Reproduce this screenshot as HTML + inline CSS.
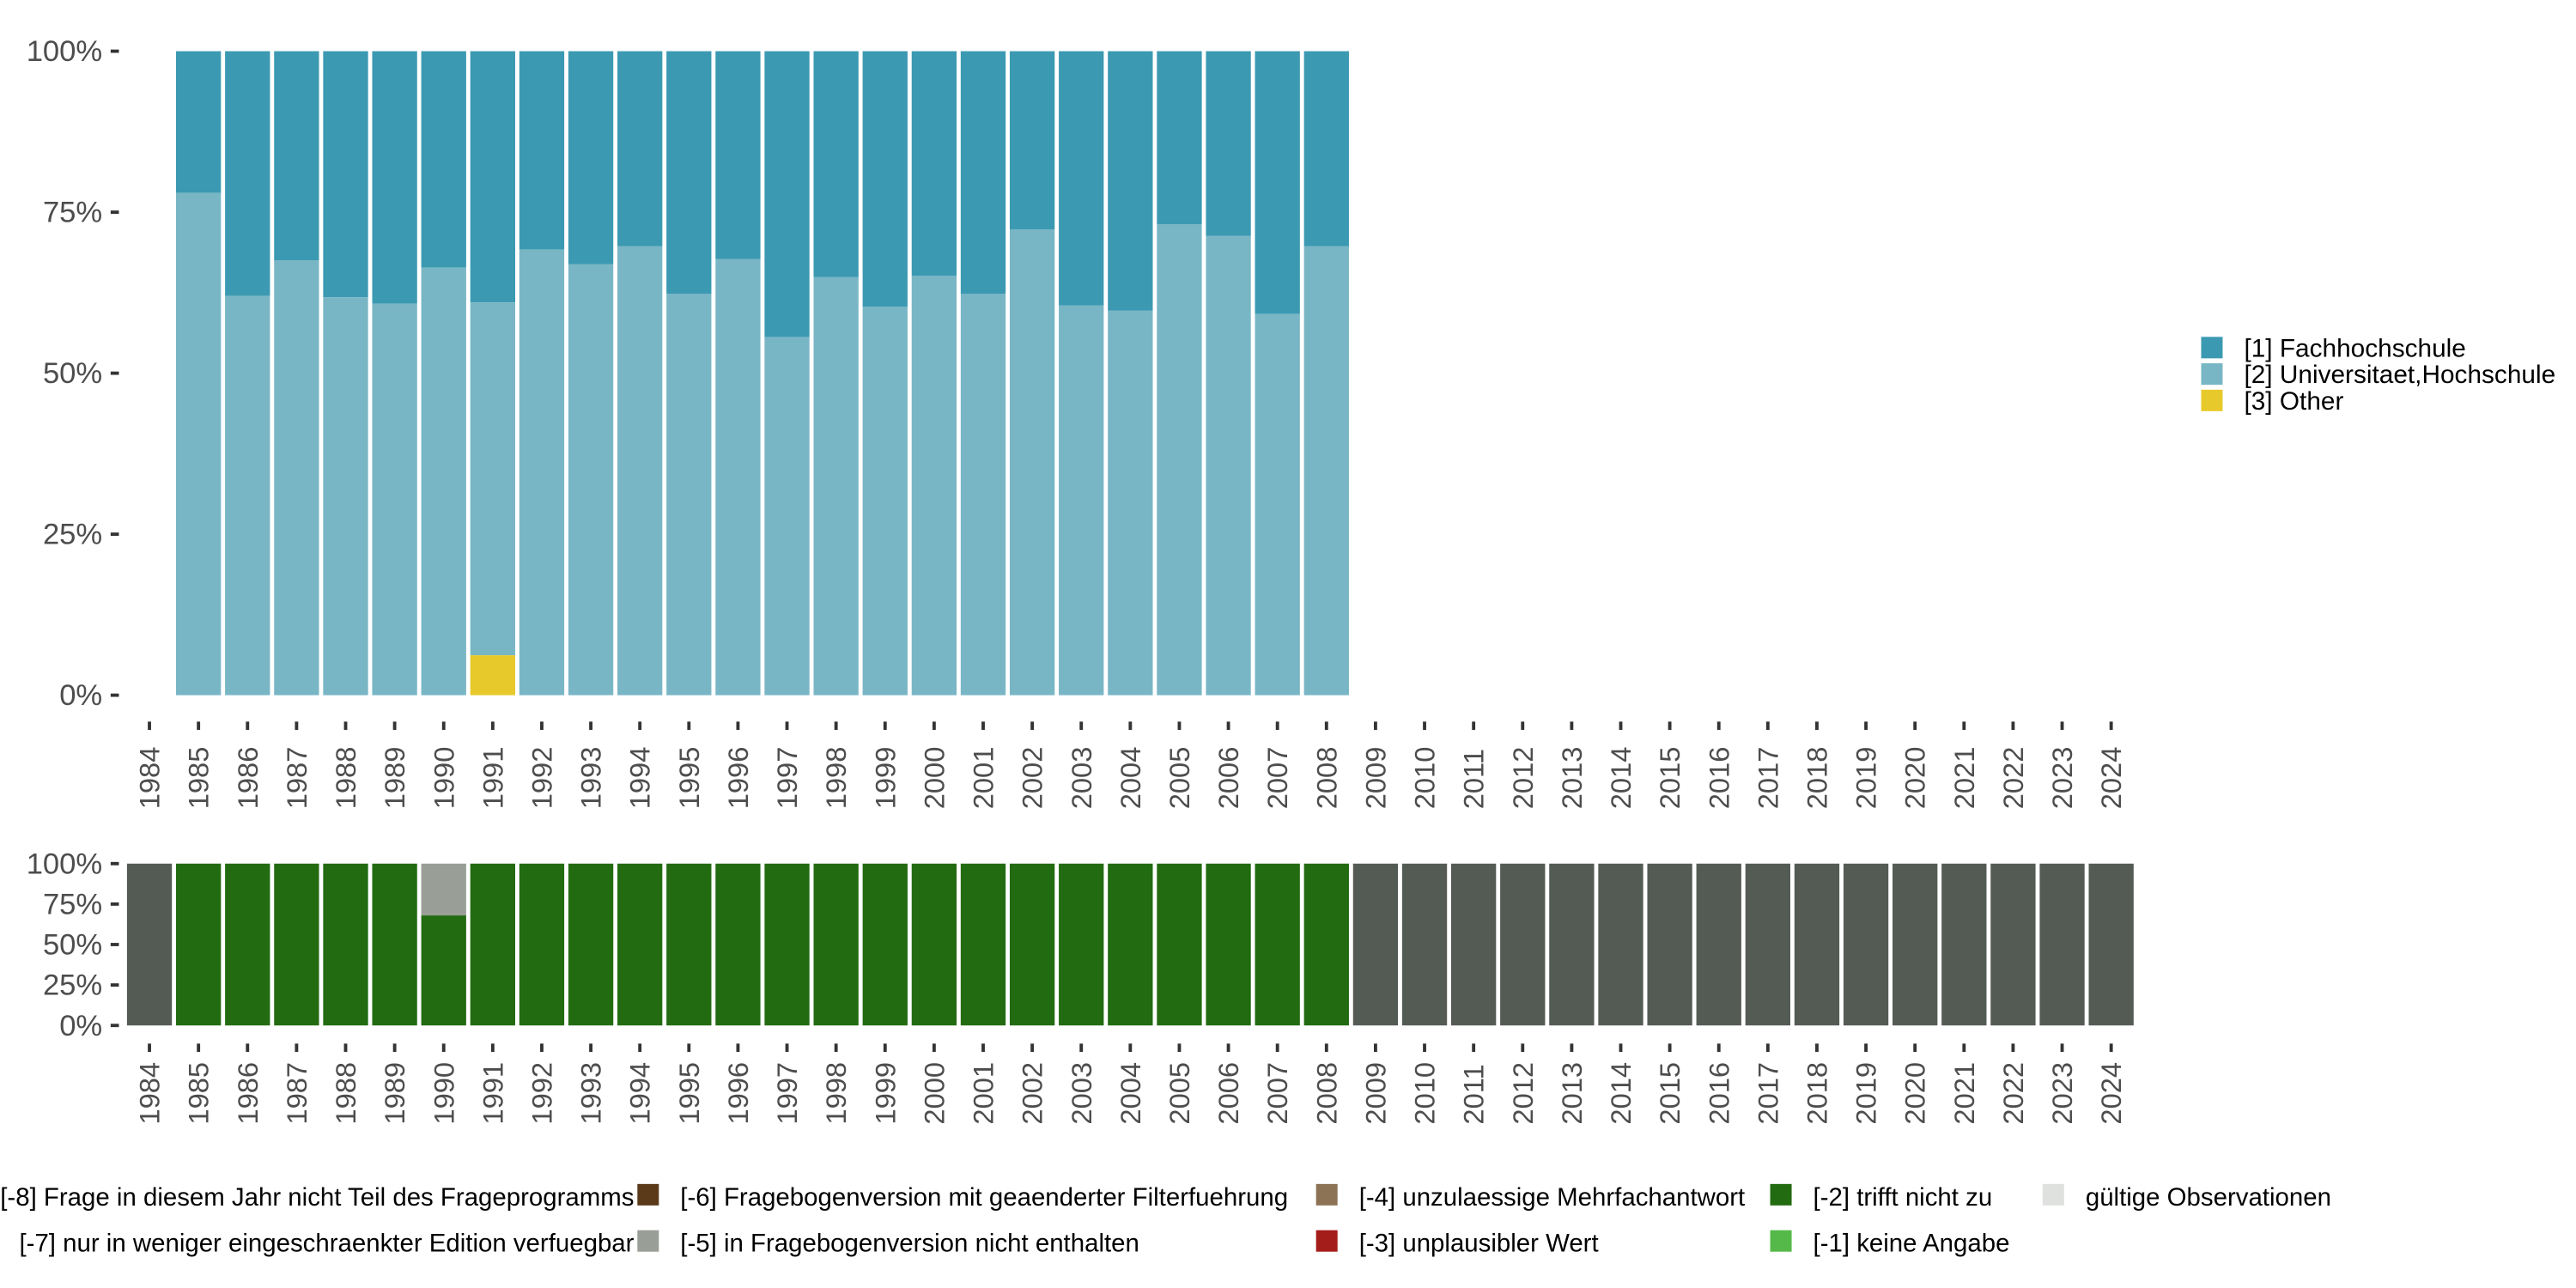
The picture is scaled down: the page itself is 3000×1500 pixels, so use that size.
<!DOCTYPE html>
<html><head><meta charset="utf-8"><style>
html,body{margin:0;padding:0;background:#fff;}
svg{display:block;font-family:"Liberation Sans",sans-serif;}
</style></head><body>
<svg id="chart" width="3000" height="1500" viewBox="0 0 1560 780" xmlns="http://www.w3.org/2000/svg">
<g id="top-panel"></g>
<g id="bottom-panel"></g>
<g id="legend-right"></g>
<g id="legend-bottom"></g>
</svg>
<script>
const years = [];
for (let y = 1984; y <= 2024; y++) years.push(y);
const topYears = [1985,1986,1987,1988,1989,1990,1991,1992,1993,1994,1995,1996,1997,1998,1999,2000,2001,2002,2003,2004,2005,2006,2007,2008];
const otherShare = [0,0,0,0,0,0,0.062,0,0,0,0,0,0,0,0,0,0,0,0,0,0,0,0,0];
const univShare = [0.78,0.62,0.675,0.618,0.608,0.664,0.548,0.692,0.669,0.697,0.623,0.677,0.556,0.649,0.603,0.651,0.623,0.723,0.605,0.597,0.731,0.713,0.592,0.697];
const validShare = [0,1,1,1,1,1,0.68,1,1,1,1,1,1,1,1,1,1,1,1,1,1,1,1,1,1,0,0,0,0,0,0,0,0,0,0,0,0,0,0,0,0];
const editionShare = [0,0,0,0,0,0,0.32,0,0,0,0,0,0,0,0,0,0,0,0,0,0,0,0,0,0,0,0,0,0,0,0,0,0,0,0,0,0,0,0,0,0];
const yTicks = [0,0.25,0.5,0.75,1];
const yTickLabels = ["0%","25%","50%","75%","100%"];

const NS = "http://www.w3.org/2000/svg";
function el(tag, attrs, parent, text) {
  const e = document.createElementNS(NS, tag);
  for (const k in attrs) e.setAttribute(k, attrs[k]);
  if (text !== undefined) e.textContent = text;
  parent.appendChild(e);
  return e;
}
const pitch = 29.7;
const bw = 27.2;
function xc(year) { return 90.5 + (year - 1984) * pitch; }
function yTop(v) { return 421 - v * 390; }
function yBot(v) { return 621 - v * 98; }

const C = { fh:"#3c99b2", uni:"#79b6c5", oth:"#e8c92b", green:"#226b11", dark:"#545b55", grey:"#999e96" };

const topG = document.getElementById("top-panel");
topYears.forEach((yr, i) => {
  const x = xc(yr) - bw/2;
  const o = otherShare[i], u = univShare[i];
  let r;
  r = el("rect", {x:x, y:yTop(1), width:bw, height:yTop(o+u)-yTop(1), fill:C.fh}, topG);
  
  
  r = el("rect", {x:x, y:yTop(o+u), width:bw, height:yTop(o)-yTop(o+u), fill:C.uni}, topG);
  
  
  if (o > 0) {
    r = el("rect", {x:x, y:yTop(o), width:bw, height:yTop(0)-yTop(o), fill:C.oth}, topG);
    
    
  }
});
yTicks.forEach((v, i) => {
  const t = el("text", {x:62, y:yTop(v)+6, "text-anchor":"end", "font-size":18, fill:"#4d4d4d"}, topG, yTickLabels[i]);
  
  
  el("line", {x1:67, x2:72, y1:yTop(v), y2:yTop(v), stroke:"#333", "stroke-width":2}, topG);
});
years.forEach(yr => {
  el("line", {x1:xc(yr), x2:xc(yr), y1:437, y2:442, stroke:"#333", "stroke-width":2}, topG);
  const t = el("text", {transform:`translate(${xc(yr)+6},490) rotate(-90)`, "font-size":17, fill:"#4d4d4d"}, topG, String(yr));
  
  
});

const botG = document.getElementById("bottom-panel");
years.forEach((yr, i) => {
  const x = xc(yr) - bw/2;
  const v = validShare[i], e = editionShare[i];
  const na = 1 - v - e;
  let base = 0, r;
  if (v > 0) {
    r = el("rect", {x:x, y:yBot(base+v), width:bw, height:yBot(base)-yBot(base+v), fill:C.green}, botG);
    
    
    base += v;
  }
  if (e > 0) {
    r = el("rect", {x:x, y:yBot(base+e), width:bw, height:yBot(base)-yBot(base+e), fill:C.grey}, botG);
    
    
    base += e;
  }
  if (na > 0.0001) {
    r = el("rect", {x:x, y:yBot(base+na), width:bw, height:yBot(base)-yBot(base+na), fill:C.dark}, botG);
    
    
  }
  el("line", {x1:xc(yr), x2:xc(yr), y1:632, y2:637, stroke:"#333", "stroke-width":2}, botG);
  const t = el("text", {transform:`translate(${xc(yr)+6},681) rotate(-90)`, "font-size":17, fill:"#4d4d4d"}, botG, String(yr));
  
  
});
yTicks.forEach((v, i) => {
  const t = el("text", {x:62, y:yBot(v)+6, "text-anchor":"end", "font-size":18, fill:"#4d4d4d"}, botG, yTickLabels[i]);
  
  
  el("line", {x1:67, x2:72, y1:yBot(v), y2:yBot(v), stroke:"#333", "stroke-width":2}, botG);
});

const lr = document.getElementById("legend-right");
[["[1] Fachhochschule",C.fh],["[2] Universitaet,Hochschule",C.uni],["[3] Other",C.oth]].forEach((d, i) => {
  const y = 204 + i*16;
  el("rect", {x:1333, y:y, width:13, height:13, fill:d[1]}, lr);
  const t = el("text", {x:1359, y:y+12, "font-size":15.5, fill:"#000"}, lr, d[0]);
  
  
});

const lb = document.getElementById("legend-bottom");
const t1 = el("text", {x:384, y:730, "text-anchor":"end", "font-size":15.3, fill:"#000"}, lb, "[-8] Frage in diesem Jahr nicht Teil des Frageprogramms");


const t2 = el("text", {x:384, y:758, "text-anchor":"end", "font-size":15.3, fill:"#000"}, lb, "[-7] nur in weniger eingeschraenkter Edition verfuegbar");


const items = [
  [386,717,"#5b3a1a","[-6] Fragebogenversion mit geaenderter Filterfuehrung"],
  [386,745,C.grey,"[-5] in Fragebogenversion nicht enthalten"],
  [797,717,"#8c7355","[-4] unzulaessige Mehrfachantwort"],
  [797,745,"#a51d1a","[-3] unplausibler Wert"],
  [1072,717,C.green,"[-2] trifft nicht zu"],
  [1072,745,"#54b948","[-1] keine Angabe"],
  [1237,717,"#dfe1df","gültige Observationen"]
];
items.forEach(d => {
  el("rect", {x:d[0], y:d[1], width:13, height:13, fill:d[2]}, lb);
  const t = el("text", {x:d[0]+26, y:d[1]+13, "font-size":15.3, fill:"#000"}, lb, d[3]);
  
  
});
</script>
</body></html>
